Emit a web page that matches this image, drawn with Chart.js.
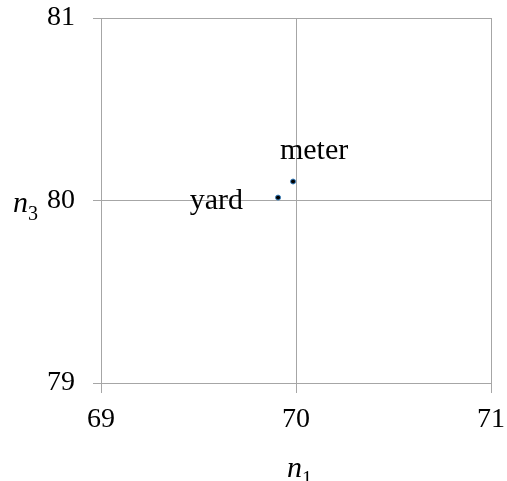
<!DOCTYPE html>
<html>
<head>
<meta charset="utf-8">
<script src="https://cdn.jsdelivr.net/npm/chart.js@4/dist/chart.umd.min.js"></script>
<style>
  html, body { margin: 0; padding: 0; background: #fff; }
  #wrap { width: 507px; height: 481px; }
</style>
</head>
<body>
<div id="wrap"><canvas id="myChart" width="507" height="481"></canvas></div>
<script>
const ctx = document.getElementById('myChart');

// unit names and their (n1, n3) values
const units = ['meter', 'yard'];
const n1Values = [69.985, 69.908];
const n3Values = [80.104, 80.016];

const xTicks = [69, 70, 71];
const yTicks = [79, 80, 81];

const gridColor = '#a6a6a6';
const serif = '"Liberation Serif", "Times New Roman", serif';

// writes each unit's name next to its point
const pointLabels = {
    id: 'pointLabels',
    afterDatasetsDraw(chart) {
        const c = chart.ctx;
        const pts = chart.getDatasetMeta(0).data;
        c.save();
        c.font = '30px ' + serif;
        c.fillStyle = '#000';
        c.textBaseline = 'alphabetic';
        units.forEach((name, i) => {
            const p = pts[i];
            if (name === 'meter') {
                c.textAlign = 'center';
                c.fillText(name, p.x + 21, p.y - 23);
            } else {
                c.textAlign = 'right';
                c.fillText(name, p.x - 35, p.y + 11);
            }
        });
        c.restore();
    }
};

// italic n with a subscript, for both axis titles
const axisTitles = {
    id: 'axisTitles',
    afterDraw(chart) {
        const c = chart.ctx;
        const drawSub = (x, y, sub) => {
            c.font = 'italic 30px ' + serif;
            const w = c.measureText('n').width;
            c.fillText('n', x, y);
            c.font = '20px ' + serif;
            c.fillText(sub, x + w, y + 8);
        };
        c.save();
        c.fillStyle = '#000';
        c.textAlign = 'left';
        c.textBaseline = 'alphabetic';
        drawSub(287, 477, '1');
        drawSub(13, chart.scales.y.getPixelForValue(80) + 11, '3');
        c.restore();
    }
};

const chart = new Chart(ctx, {
    type: 'scatter',
    data: {
        datasets: [{
            data: units.map((u, i) => ({x: n1Values[i], y: n3Values[i]})),
            pointRadius: 2.5,
            pointBackgroundColor: '#000',
            pointBorderColor: '#3b84c4',
            pointBorderWidth: 1
        }]
    },
    options: {
        responsive: false,
        animation: false,
        layout: { padding: { left: 0, top: 18, right: 16, bottom: 0 } },
        plugins: { legend: { display: false }, tooltip: { enabled: false } },
        scales: {
            x: {
                type: 'linear',
                min: 69, max: 71,
                afterBuildTicks: s => { s.ticks = xTicks.map(v => ({value: v})); },
                afterFit: s => { s.height = 98; s.paddingLeft = 0; s.paddingRight = 0; },
                grid: { color: gridColor, lineWidth: 1, tickLength: 10, drawTicks: true },
                border: { color: gridColor },
                ticks: { color: '#000', padding: 10, maxRotation: 0, font: { family: serif, size: 28 } }
            },
            y: {
                type: 'linear',
                min: 79, max: 81,
                afterBuildTicks: s => { s.ticks = yTicks.map(v => ({value: v})); },
                afterFit: s => { s.width = 101; s.paddingTop = 0; s.paddingBottom = 0; },
                grid: { color: gridColor, lineWidth: 1, tickLength: 8, drawTicks: true },
                border: { color: gridColor },
                ticks: { color: '#000', padding: 18, font: { family: serif, size: 28 } }
            }
        }
    },
    plugins: [pointLabels, axisTitles]
});
</script>
</body>
</html>
